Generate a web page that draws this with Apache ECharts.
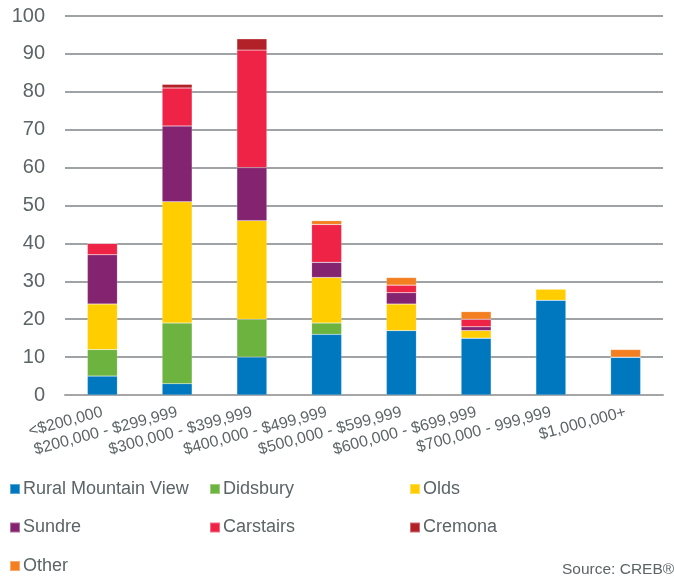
<!DOCTYPE html>
<html style="height: 100%">
<head>
<meta charset="UTF-8">
<title>Sales by price range</title>
<script src="https://cdn.jsdelivr.net/npm/echarts@6/dist/echarts.min.js"></script>
</head>
<body style="height: 100%; margin: 0; background: #fff">
<div id="container" style="width: 674px; height: 580px"></div>
<script type="text/javascript">
// categories and series values
var categories = ['<$200,000', '$200,000 - $299,999', '$300,000 - $399,999', '$400,000 - $499,999',
  '$500,000 - $599,999', '$600,000 - $699,999', '$700,000 - 999,999', '$1,000,000+'];
var ruralMountainView = [5, 3, 10, 16, 17, 15, 25, 10];
var didsbury = [7, 16, 10, 3, 0, 0, 0, 0];
var olds = [12, 32, 26, 12, 7, 2, 3, 0];
var sundre = [13, 20, 14, 4, 3, 1, 0, 0];
var carstairs = [3, 10, 31, 10, 2, 2, 0, 0];
var cremona = [0, 1, 3, 0, 0, 0, 0, 0];
var other = [0, 0, 0, 1, 2, 2, 0, 2];
var yTicks = [0, 100, 10];

var names = ['Rural Mountain View', 'Didsbury', 'Olds', 'Sundre', 'Carstairs', 'Cremona', 'Other'];
var colors = ['#0078c0', '#6db33f', '#ffcd00', '#84236f', '#ee2346', '#b32128', '#f47f20'];
var values = [ruralMountainView, didsbury, olds, sundre, carstairs, cremona, other];

var textGrey = '#5b6466';
var series = [];
for (var i = 0; i < names.length; i++) {
  series.push({
    name: names[i],
    type: 'bar',
    stack: 'total',
    barWidth: 30,
    data: values[i],
    itemStyle: { color: colors[i], borderColor: 'rgba(255,255,255,0.35)', borderWidth: 0.5 }
  });
}

// one legend per item, laid out in a 3-column grid like the original
var legends = [];
for (var k = 0; k < names.length; k++) {
  legends.push({
    left: 9 + (k % 3) * 200,
    top: 480 + Math.floor(k / 3) * 38.5,
    padding: 0,
    itemWidth: 10,
    itemHeight: 10,
    icon: 'rect',
    selectedMode: false,
    data: [names[k]],
    textStyle: { color: textGrey, fontSize: 18, fontFamily: 'Liberation Sans', padding: [0, 0, 0, -2] }
  });
}

var myChart = echarts.init(document.getElementById('container'));
var option = {
  animation: false,
  textStyle: { fontFamily: 'Liberation Sans' },
  color: colors,
  grid: { left: 65, right: 11, top: 16, bottom: 185 },
  legend: legends,
  xAxis: {
    type: 'category',
    data: categories,
    axisTick: { show: false },
    axisLine: { lineStyle: { color: '#a6a6a6', width: 2 } },
    axisLabel: { interval: 0, rotate: 15, margin: 17, color: textGrey, fontSize: 16 }
  },
  yAxis: {
    type: 'value',
    min: yTicks[0],
    max: yTicks[1],
    interval: yTicks[2],
    axisLine: { show: false },
    axisTick: { show: false },
    axisLabel: { margin: 20, color: textGrey, fontSize: 20 },
    splitLine: { lineStyle: { color: '#7f8587', width: 1.5 } }
  },
  graphic: [{
    type: 'text',
    left: 562,
    top: 562,
    style: { text: 'Source: CREB®', fill: textGrey, fontSize: 15.5, fontFamily: 'Liberation Sans' }
  }],
  series: series
};
myChart.setOption(option, true);
</script>
</body>
</html>
